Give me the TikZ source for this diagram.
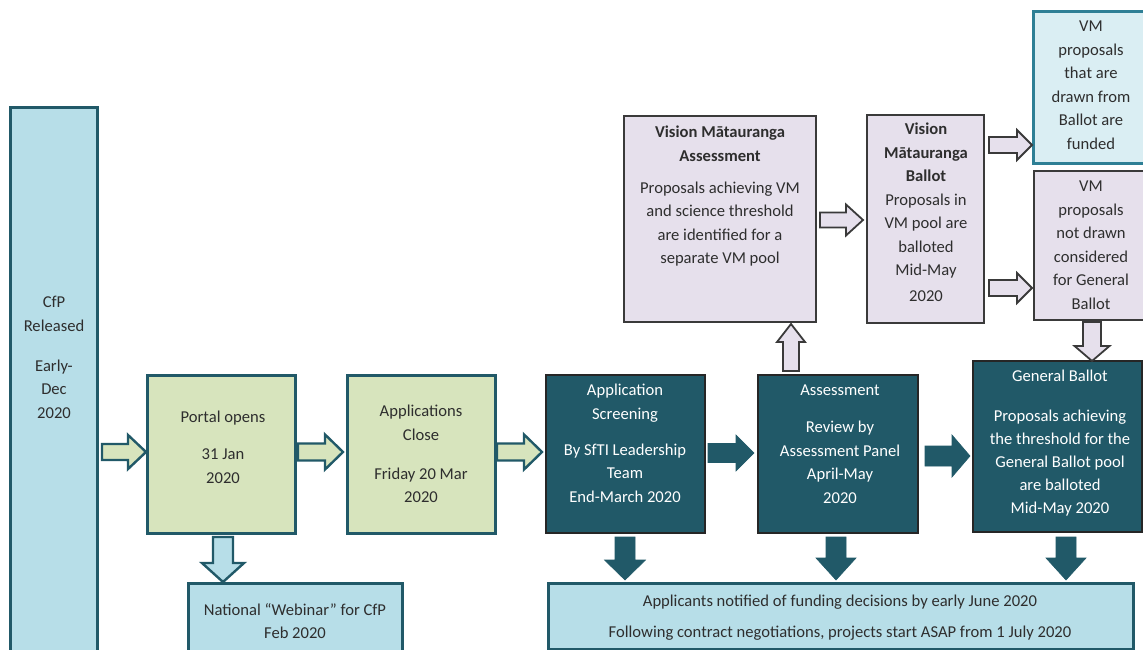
\documentclass[tikz,border=0pt]{standalone}
\usepackage{fontspec}
\setmainfont{Carlito}
\usetikzlibrary{calc,fit}
\definecolor{tealD}{HTML}{215968}
\definecolor{lblue}{HTML}{B7DEE8}
\definecolor{lgreen}{HTML}{D7E4BD}
\definecolor{lav}{HTML}{E6E0EC}
\definecolor{pblue}{HTML}{DAEEF3}
\definecolor{mteal}{HTML}{2E7F95}
\definecolor{dgrey}{HTML}{3A3A3A}
\definecolor{txtc}{HTML}{2E2E2E}
% horizontal block arrow: style, from, to, y(px), shaft half, head half, head length, start gap, end gap
\newcommand\harr[9]{%
 \path[#1] let \p1=(#2), \p2=(#3), \n1={-(#4)}, \n2={(\x2>\x1)?1:-1} in
 ({\x1+\n2*#8pt},{(\n1+#5)*1pt}) -- ({\x2-\n2*(#7+#9)*1pt},{(\n1+#5)*1pt}) --
 ({\x2-\n2*(#7+#9)*1pt},{(\n1+#6)*1pt}) -- ({\x2-\n2*#9*1pt},{\n1*1pt}) --
 ({\x2-\n2*(#7+#9)*1pt},{(\n1-#6)*1pt}) -- ({\x2-\n2*(#7+#9)*1pt},{(\n1-#5)*1pt}) --
 ({\x1+\n2*#8pt},{(\n1-#5)*1pt}) -- cycle;}
% vertical block arrow: style, from, to, x(px), shaft half, head half, head length, start gap, end gap
\newcommand\varr[9]{%
 \path[#1] let \p1=(#2), \p2=(#3), \n1={#4}, \n2={(\y2>\y1)?1:-1} in
 ({(\n1-#5)*1pt},{\y1+\n2*#8pt}) -- ({(\n1-#5)*1pt},{\y2-\n2*(#7+#9)*1pt}) --
 ({(\n1-#6)*1pt},{\y2-\n2*(#7+#9)*1pt}) -- ({\n1*1pt},{\y2-\n2*#9*1pt}) --
 ({(\n1+#6)*1pt},{\y2-\n2*(#7+#9)*1pt}) -- ({(\n1+#5)*1pt},{\y2-\n2*(#7+#9)*1pt}) --
 ({(\n1+#5)*1pt},{\y1+\n2*#8pt}) -- cycle;}
\tikzset{
 box/.style={inner sep=0pt, outer sep=0pt, rectangle},
 greenbox/.style={box, fill=lgreen, draw=tealD, line width=3pt},
 bluebox/.style={box, fill=lblue, draw=tealD, line width=3pt},
 darkbox/.style={box, fill=tealD, draw=black!85, line width=1.8pt},
 lavbox/.style={box, fill=lav, draw=dgrey, line width=1.9pt},
 fundbox/.style={box, fill=pblue, draw=mteal, line width=3pt},
 garr/.style={fill=lgreen, draw=tealD, line width=2.4pt, line join=miter},
 barr/.style={fill=lblue, draw=tealD, line width=2.4pt, line join=miter},
 tarr/.style={fill=tealD, draw=tealD, line width=0.6pt, line join=miter},
 larr/.style={fill=lav, draw=dgrey, line width=1.8pt, line join=miter},
 txt/.style={align=center, inner sep=0pt, anchor=north, text=txtc,
   font=\fontsize{16.6}{23.5}\selectfont},
 wtxt/.style={txt, text=white},
}
\begin{document}
\begin{tikzpicture}[x=1pt,y=-1pt]
\useasboundingbox (0,0) rectangle (1143,650);
\fill[white] (0,0) rectangle (1143,650);
\clip (0,0) rectangle (1143,650);
% boxes
\node[bluebox, fit={(10,108) (97,720)}] (cfp) {};
\node[greenbox, fit={(147,375) (295,533)}] (portal) {};
\node[greenbox, fit={(347,375) (495,533)}] (close) {};
\node[darkbox, fit={(546,375) (705,533)}] (screen) {};
\node[darkbox, fit={(758,375) (918,533)}] (assess) {};
\node[darkbox, fit={(973,361) (1142,532)}] (gb) {};
\node[bluebox, fit={(188,583) (402,660)}] (webinar) {};
\node[bluebox, fit={(548,583) (1133,649)}] (appl) {};
\node[lavbox, fit={(624,116) (816,322)}] (vma) {};
\node[lavbox, fit={(867,115) (984,323)}] (vmb) {};
\node[fundbox, fit={(1033,12) (1152,163)}] (vmf) {};
\node[lavbox, fit={(1034,171) (1152,320)}] (vmn) {};
% texts
\node[txt] (cfpT) at (54,296) {CfP\\Released\\[16.5pt]Early-\\Dec\\2020};
\node[txt] (portalT) at (223,411) {Portal opens\\[13.5pt]31 Jan\\2020};
\node[txt] (closeT) at (421,405) {Applications\\Close\\[15.5pt]Friday 20 Mar\\2020};
\node[wtxt] (screenT) at (625,384) {Application\\Screening\\[12.5pt]By SfTI Leadership\\Team\\End-March 2020};
\node[wtxt] (assessT) at (840,385) {Assessment\\[13.5pt]Review by\\Assessment Panel\\April-May\\2020};
\node[wtxt, font=\fontsize{16.6}{23}\selectfont] (gbT) at (1060,370) {General Ballot\\[16.5pt]Proposals achieving\\the threshold for the\\General Ballot pool\\are balloted\\Mid-May 2020};
\node[txt, font=\fontsize{16.6}{23}\selectfont] (webinarT) at (295,603) {National “Webinar” for CfP\\Feb 2020};
\node[txt] (applT) at (840,595) {Applicants notified of funding decisions by early June 2020\\[7.5pt]Following contract negotiations, projects start ASAP from 1 July 2020};
\node[txt] (vmaT) at (720,126) {\textbf{Vision Mātauranga}\\\textbf{Assessment}\\[8.5pt]Proposals achieving VM\\and science threshold\\are identified for a\\separate VM pool};
\node[txt] (vmbT) at (926,123) {\textbf{Vision}\\\textbf{Mātauranga}\\\textbf{Ballot}\\Proposals in\\VM pool are\\balloted\\Mid-May\\[2.5pt]2020};
\node[txt] (vmfT) at (1091,21) {VM\\proposals\\that are\\drawn from\\Ballot are\\funded};
\node[txt] (vmnT) at (1091,181) {VM\\proposals\\not drawn\\considered\\for General\\Ballot};
% arrows
\harr{garr}{cfp.east}{portal.west}{452}{8}{17}{18}{5}{1}
\harr{garr}{portal.east}{close.west}{452}{8.5}{17.5}{18}{3}{4}
\harr{garr}{close.east}{screen.west}{452}{8.5}{17.5}{18}{2}{4}
\harr{tarr}{screen.east}{assess.west}{453}{9.5}{18}{18}{3}{4}
\harr{tarr}{assess.east}{gb.west}{456}{10}{21}{18}{7}{3}
\varr{barr}{portal.south}{webinar.north}{223}{10}{21}{19}{4}{1}
\varr{tarr}{screen.south}{appl.north}{625}{10}{20.5}{20}{4}{3}
\varr{tarr}{assess.south}{appl.north}{836}{10}{20}{22}{4}{3}
\varr{tarr}{gb.south}{appl.north}{1066}{10}{20}{22}{5}{3}
\varr{larr}{assess.north}{vma.south}{791}{8}{14}{18}{4}{2}
\harr{larr}{vma.east}{vmb.west}{220}{7.5}{15.5}{17}{4}{4}
\harr{larr}{vmb.east}{vmf.west}{145}{8}{15}{15}{5}{1}
\harr{larr}{vmb.east}{vmn.west}{288}{8}{15}{15}{5}{2}
\varr{larr}{vmn.south}{gb.north}{1092}{9}{17.5}{15}{2}{0}
\end{tikzpicture}
\end{document}
